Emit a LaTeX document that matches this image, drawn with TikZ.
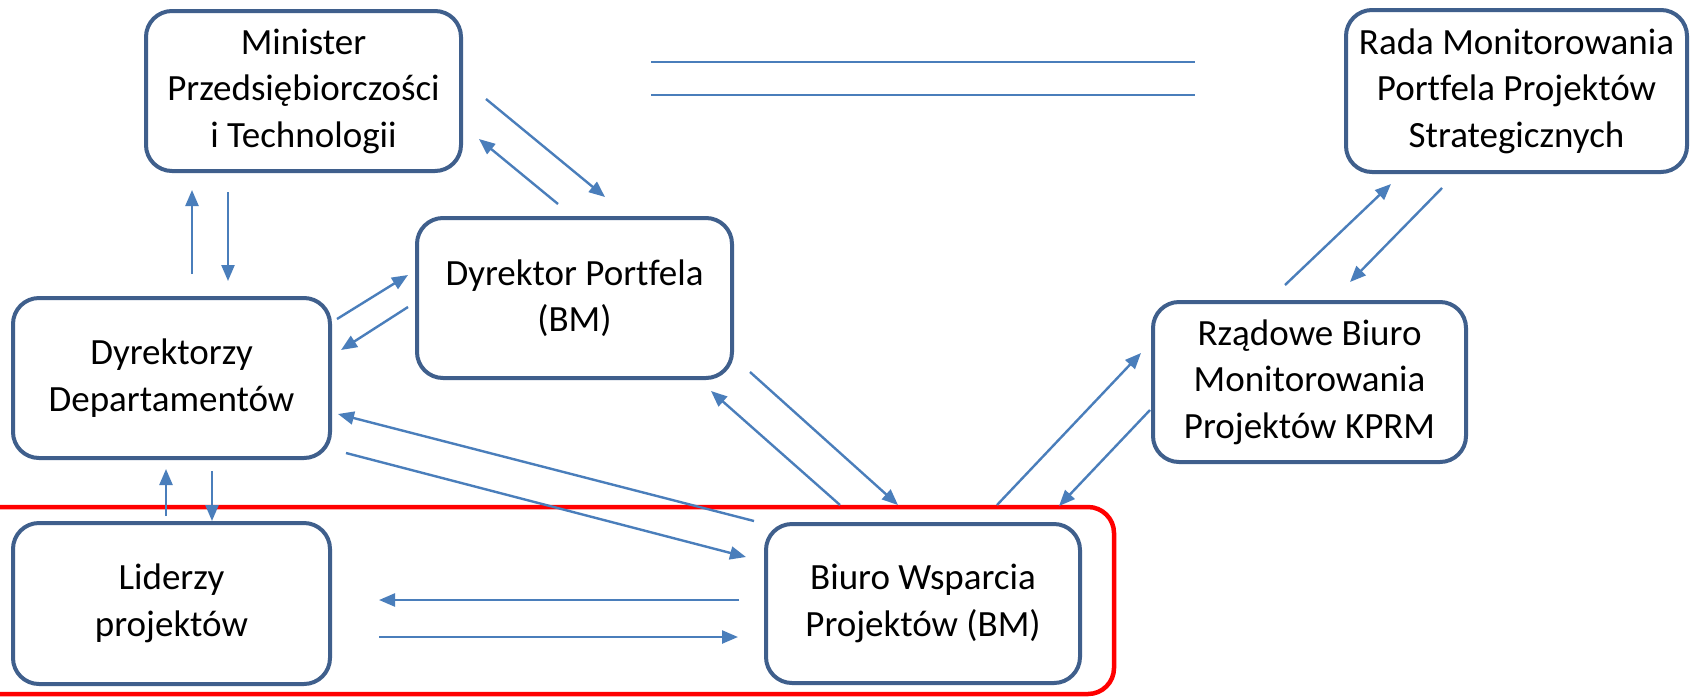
\documentclass[tikz,border=0pt]{standalone}
\usepackage{fontspec}
\setmainfont[Ligatures=NoCommon]{Carlito}
\usetikzlibrary{arrows.meta}
\definecolor{boxline}{HTML}{3F5F8C}
\definecolor{flow}{HTML}{4A7EBB}
\definecolor{frame}{HTML}{FF0000}
\tikzset{
  unit/.style={draw=boxline, line width=4pt, rounded corners=26pt, fill=white,
    align=center, inner sep=0pt, font=\fontsize{37}{46.5}\selectfont},
  flowarrow/.style={draw=flow, line width=2.4pt, -{Triangle[length=16pt,width=13pt]}},
  flowline/.style={draw=flow, line width=2.4pt},
}
\begin{document}
\begin{tikzpicture}[x=1pt, y=-1pt]
\useasboundingbox (0,0) rectangle (1691,697);
\fill[white] (0,0) rectangle (1691,697);

% group frame around the project-level units
\draw[frame, line width=4.5pt, rounded corners=26pt] (-30,507) rectangle (1114,694);

% units
\node[unit, minimum width=315pt, minimum height=160pt] (min) at (303.5,91)
  {Minister\\Przedsiębiorczości\\i Technologii};
\node[unit, minimum width=341pt, minimum height=162pt] (rada) at (1516.5,91)
  {Rada Monitorowania\\Portfela Projektów\\Strategicznych};
\node[unit, minimum width=315pt, minimum height=160pt] (dp) at (574.5,298)
  {Dyrektor Portfela\\(BM)};
\node[unit, minimum width=317pt, minimum height=160pt] (dd) at (171.5,378)
  {Dyrektorzy\\Departamentów};
\node[unit, minimum width=313pt, minimum height=160pt] (rz) at (1309.5,382)
  {Rządowe Biuro\\Monitorowania\\Projektów KPRM};
\node[unit, minimum width=317pt, minimum height=161pt] (lid) at (171.5,603.5)
  {Liderzy\\projektów};
\node[unit, minimum width=314pt, minimum height=159pt] (bw) at (923,603.5)
  {Biuro Wsparcia\\Projektów (BM)};

% free ends of the connectors
\coordinate (minA) at (486,99);   \coordinate (dpA) at (605,197);
\coordinate (dpB) at (558,204);   \coordinate (minB) at (479,139);
\coordinate (ddC) at (192,274);   \coordinate (minC) at (192,190);
\coordinate (minD) at (228,192);  \coordinate (ddD) at (228,281);
\coordinate (ddE) at (337,319);   \coordinate (dpE) at (408,275);
\coordinate (dpF) at (408,307);   \coordinate (ddF) at (341,350);
\coordinate (bwG) at (754,521);   \coordinate (ddG) at (338,414);
\coordinate (ddH) at (346,453);   \coordinate (bwH) at (746,557);
\coordinate (lidI) at (166,516);  \coordinate (ddI) at (166,469);
\coordinate (ddJ) at (212,471);   \coordinate (lidJ) at (212,521);
\coordinate (bwK) at (739,600);   \coordinate (lidK) at (379,600);
\coordinate (lidL) at (379,637);  \coordinate (bwL) at (738,637);
\coordinate (bwM) at (840,505);   \coordinate (dpM) at (711,391);
\coordinate (dpN) at (750,372);   \coordinate (bwN) at (898,505);
\coordinate (bwO) at (997,505);   \coordinate (rzO) at (1141,353);
\coordinate (rzP) at (1150,410);  \coordinate (bwP) at (1059,506);
\coordinate (rzQ) at (1285,285);  \coordinate (radaQ) at (1391,184);
\coordinate (radaR) at (1442,188); \coordinate (rzR) at (1350,282);
\coordinate (lnA1) at (651,62);   \coordinate (lnA2) at (1195,62);
\coordinate (lnB1) at (651,95);   \coordinate (lnB2) at (1195,95);

% connectors
\draw[flowarrow] (minA) -- (dpA);
\draw[flowarrow] (dpB) -- (minB);
\draw[flowarrow] (ddC) -- (minC);
\draw[flowarrow] (minD) -- (ddD);
\draw[flowarrow] (ddE) -- (dpE);
\draw[flowarrow] (dpF) -- (ddF);
\draw[flowarrow] (bwG) -- (ddG);
\draw[flowarrow] (ddH) -- (bwH);
\draw[flowarrow] (lidI) -- (ddI);
\draw[flowarrow] (ddJ) -- (lidJ);
\draw[flowarrow] (bwK) -- (lidK);
\draw[flowarrow] (lidL) -- (bwL);
\draw[flowarrow] (bwM) -- (dpM);
\draw[flowarrow] (dpN) -- (bwN);
\draw[flowarrow] (bwO) -- (rzO);
\draw[flowarrow] (rzP) -- (bwP);
\draw[flowarrow] (rzQ) -- (radaQ);
\draw[flowarrow] (radaR) -- (rzR);
\draw[flowline] (lnA1) -- (lnA2);
\draw[flowline] (lnB1) -- (lnB2);
\end{tikzpicture}
\end{document}
